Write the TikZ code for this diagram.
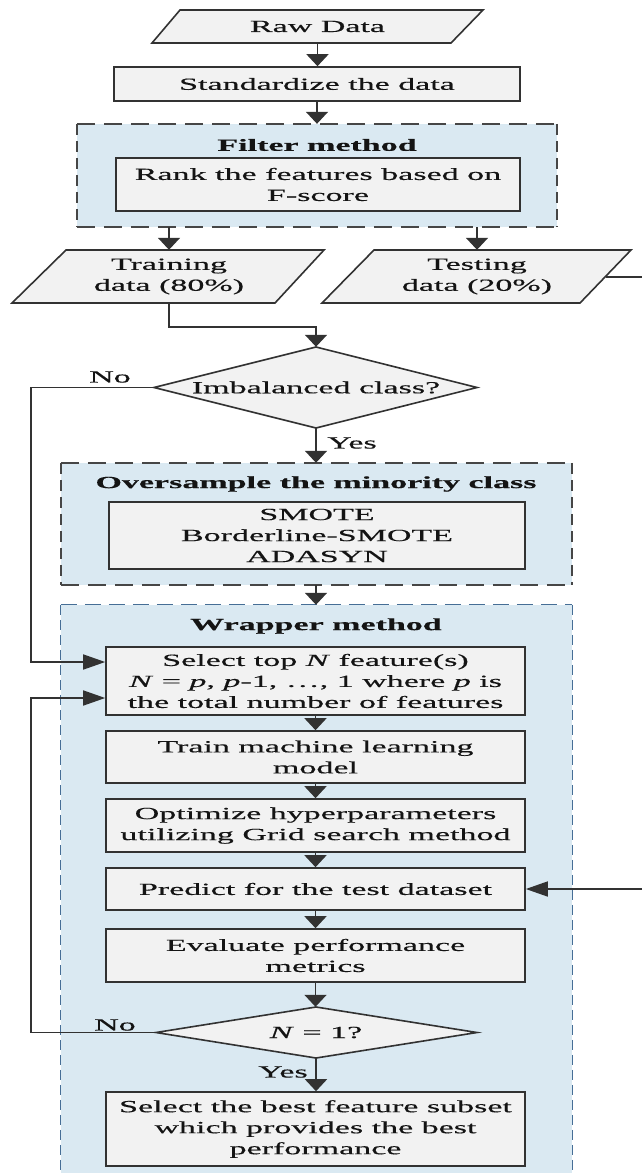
\documentclass[tikz,border=0pt]{standalone}
\usepackage{fontspec}
\setmainfont[FakeStretch=2.0,FakeBold=0.4]{Liberation Serif}
\usetikzlibrary{arrows.meta}
\definecolor{boxfill}{RGB}{242,242,242}
\definecolor{boxline}{RGB}{50,50,50}
\definecolor{grpfill}{RGB}{218,233,242}
\definecolor{grpline}{RGB}{70,70,70}
\definecolor{wrapline}{RGB}{70,110,150}
\definecolor{txt}{RGB}{20,20,20}
\begin{document}
\begin{tikzpicture}[x=1pt,y=-1pt,
  font=\fontsize{17}{21}\selectfont, text=txt,
  procbox/.style={draw=boxline, line width=1.6pt, fill=boxfill, align=center, inner sep=0pt},
  txtnode/.style={align=center, inner sep=0pt},
  para/.style={draw=boxline, line width=1.6pt, fill=boxfill},
  grp/.style={fill=grpfill, inner sep=0pt},
  hdash/.style={draw=grpline, line width=1.6pt, dash pattern=on 18pt off 9pt},
  vdash/.style={draw=grpline, line width=1.6pt, dash pattern=on 11pt off 6pt},
  whdash/.style={draw=wrapline, line width=1.3pt, dash pattern=on 16pt off 8pt},
  wvdash/.style={draw=wrapline, line width=1.3pt, dash pattern=on 10pt off 5pt},
  varrow/.style={draw=boxline, line width=1.6pt, -{Triangle[width=22pt,length=12pt]}},
  harrow/.style={draw=boxline, line width=1.6pt, -{Triangle[width=15pt,length=22pt]}},
  lbl/.style={inner sep=0pt}
]
\useasboundingbox (0,0) rectangle (642,1173);
\clip (0,0) rectangle (642,1173);
\fill[white] (0,0) rectangle (642,1173);

% Raw data
\draw[para] (152,43) -- (180,10) -- (483,10) -- (451,43) -- cycle;
\node[txtnode, minimum height=33pt] (raw) at (317.5,26.5) {Raw Data};

% Standardize
\node[procbox, minimum width=406pt, minimum height=34pt] (std) at (317,84) {Standardize the data};

% Filter group
\node[grp, minimum width=480pt, minimum height=103pt] (filter) at (317,175.5) {};
\draw[hdash] (filter.north west) -- (filter.north east);
\draw[hdash] (filter.south west) -- (filter.south east);
\draw[vdash] (filter.north west) -- (filter.south west);
\draw[vdash] (filter.north east) -- (filter.south east);
\node[txtnode] (filtert) at (317,145) {\bfseries Filter method};
\node[procbox, minimum width=404pt, minimum height=53pt] (rank) at (318,184.5) {Rank the features based on\\F-score};

% Training / testing
\draw[para] (12,303) -- (66,250) -- (324,250) -- (275,303) -- cycle;
\node[txtnode, minimum height=53pt] (train) at (169,276.5) {Training\\data (80\%)};
\draw[para] (322,303) -- (374,250) -- (631,250) -- (580,303) -- cycle;
\node[txtnode, minimum height=53pt] (test) at (477,276.5) {Testing\\data (20\%)};
\coordinate (tout) at (606,277);
\coordinate (rgt) at (665,0);
\coordinate (lft) at (31,0);

% Decision 1
\draw[para] (154,387.5) -- (316,347) -- (477,387.5) -- (316,428) -- cycle;
\node[txtnode, minimum width=323pt, minimum height=81pt] (d1) at (316,387.5) {Imbalanced class?};
\node[lbl] (no1) at (110,377) {No};
\node[lbl] (yes1) at (352,443) {Yes};

% Oversample group
\node[grp, minimum width=511pt, minimum height=122pt] (over) at (316.5,524) {};
\draw[hdash] (over.north west) -- (over.north east);
\draw[hdash] (over.south west) -- (over.south east);
\draw[vdash] (over.north west) -- (over.south west);
\draw[vdash] (over.north east) -- (over.south east);
\node[txtnode] (overt) at (316,484) {\bfseries Oversample the minority class};
\node[procbox, minimum width=416pt, minimum height=67pt] (smote) at (317,535.5) {SMOTE\\Borderline-SMOTE\\ADASYN};

% Wrapper group
\node[grp, minimum width=511pt, minimum height=600pt] (wrap) at (316.5,905) {};
\draw[whdash] (wrap.north west) -- (wrap.north east);
\draw[wvdash] (wrap.north west) -- (wrap.south west);
\draw[wvdash] (wrap.north east) -- (wrap.south east);
\node[txtnode] (wrapt) at (316,626) {\bfseries Wrapper method};
\node[procbox, minimum width=419pt, minimum height=68pt] (sel) at (315.5,681) {Select top \textit{N} feature(s)\\\textit{N} = \textit{p}, \textit{p}-1, \dots, 1 where \textit{p} is\\the total number of features};
\node[procbox, minimum width=419pt, minimum height=52pt] (trainm) at (315.5,757) {Train machine learning\\model};
\node[procbox, minimum width=419pt, minimum height=53pt] (opt) at (315.5,825.5) {Optimize hyperparameters\\utilizing Grid search method};
\node[procbox, minimum width=419pt, minimum height=42pt] (pred) at (315.5,889) {Predict for the test dataset};
\node[procbox, minimum width=419pt, minimum height=53pt] (eval) at (315.5,955.5) {Evaluate performance\\metrics};
\draw[para] (156,1032.5) -- (316,1007) -- (477,1032.5) -- (316,1058) -- cycle;
\node[txtnode, minimum width=321pt, minimum height=51pt] (d2) at (316,1032.5) {\textit{N} = 1?};
\node[lbl] (no2) at (115,1025) {No};
\node[lbl] (yes2) at (283,1072) {Yes};
\node[procbox, minimum width=419pt, minimum height=74pt] (final) at (315.5,1129) {Select the best feature subset\\which provides the best\\performance};

% Connectors
\draw[varrow] (raw.south) -- (raw.south |- std.north);
\draw[varrow] (std.south) -- (std.south |- filter.north);
\draw[varrow] (filter.south -| train) -- (train.north);
\draw[varrow] (filter.south -| test) -- (test.north);
\draw[varrow] (train.south) -- ++(0,24) -| (d1.north);
\draw[varrow] (d1.south) -- (d1.south |- over.north);
\draw[varrow] (over.south -| d1) -- (d1 |- wrap.north);
\draw[harrow] (d1.west) -- (d1.west -| lft) |- ([yshift=19pt]sel.west);
\draw[varrow] (sel.south) -- (trainm.north);
\draw[varrow] (trainm.south) -- (opt.north);
\draw[varrow] (opt.south) -- (pred.north);
\draw[varrow] (pred.south) -- (eval.north);
\draw[varrow] (eval.south) -- (eval.south |- d2.north);
\draw[harrow] (d2.west) -- (d2.west -| lft) |- ([yshift=-17pt]sel.west);
\draw[varrow] (d2.south) -- (d2.south |- final.north);
\draw[harrow] (tout) -- (tout -| rgt) |- (pred.east);
\end{tikzpicture}
\end{document}
